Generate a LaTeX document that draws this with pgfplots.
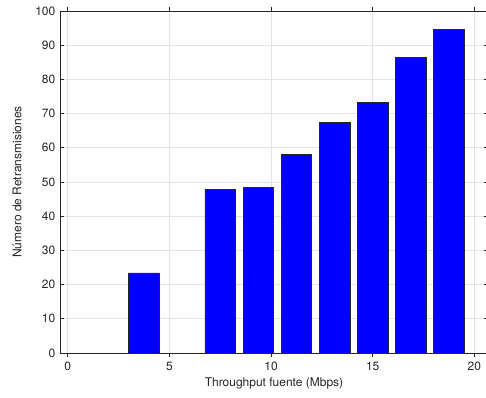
\documentclass[border=0pt]{standalone}
\usepackage{fontspec}
\setmainfont{TeX Gyre Heros}
\usepackage{pgfplots}
\pgfplotsset{compat=1.18}
\definecolor{gridc}{gray}{0.89}
\definecolor{axc}{gray}{0.15}
\begin{document}
\begin{tikzpicture}
\begin{axis}[
  scale only axis,
  width=321pt, height=256.5pt,
  xmin=-0.379, xmax=20.67,
  ymin=0, ymax=100,
  xtick={0,5,10,15,20},
  ytick={0,10,...,100},
  grid=major,
  major grid style={gridc, line width=0.5pt},
  axis line style={axc, line width=0.5pt},
  tick style={axc, line width=0.5pt},
  tick align=inside,
  major tick length=3pt,
  ticklabel style={font=\fontsize{9}{10}\selectfont, text=axc},
  /pgf/number format/assume math mode=true,
  xlabel={Throughput fuente (Mbps)},
  ylabel={Número de Retransmisiones},
  label style={font=\fontsize{9}{11}\selectfont, text=axc},
  xlabel style={at={(axis description cs:0.5,0)}, anchor=center, yshift=-22.5pt},
  ylabel style={at={(axis description cs:0,0.5)}, anchor=center, yshift=32.25pt},
  ybar, bar width=1.5, bar shift=0pt,
]
\addplot[fill={rgb,1:red,0;green,0;blue,1}, draw=black!85, line width=0.5pt] coordinates {
  (3.75,23.4) (7.5,47.9) (9.375,48.5) (11.25,58.1)
  (13.125,67.4) (15,73.2) (16.875,86.5) (18.75,94.7)
};
\end{axis}
\pgfresetboundingbox
\path[use as bounding box] ([xshift=-45pt,yshift=-33.75pt]current axis.south west) rectangle ([xshift=-1.5pt,yshift=8.25pt]current axis.north east);
\end{tikzpicture}
\end{document}
